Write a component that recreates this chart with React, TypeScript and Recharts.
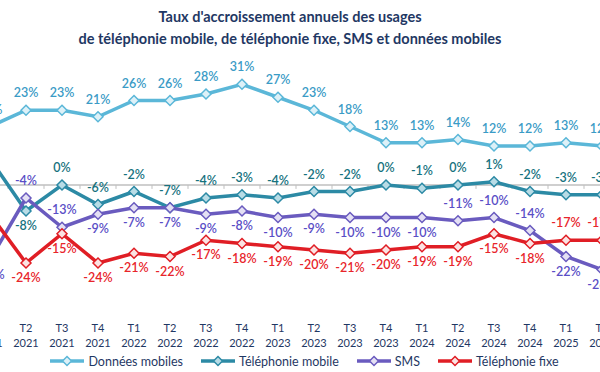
import React from 'react';
import { LineChart, Line, XAxis, YAxis, ReferenceLine, Legend } from 'recharts';

const quarters = ['T1', 'T2', 'T3', 'T4', 'T1', 'T2', 'T3', 'T4', 'T1', 'T2', 'T3', 'T4', 'T1', 'T2', 'T3', 'T4', 'T1', 'T2'];
const years = ['2021', '2021', '2021', '2021', '2022', '2022', '2022', '2022', '2023', '2023', '2023', '2023', '2024', '2024', '2024', '2024', '2025', '2025'];

const donneesMobiles = [18, 23, 23, 21, 26, 26, 28, 31, 27, 23, 18, 13, 13, 14, 12, 12, 13, 12];
const telephonieMobile = [8, -8, 0, -6, -2, -7, -4, -3, -4, -2, -2, 0, -1, 0, 1, -2, -3, -3];
const sms = [-23, -4, -13, -9, -7, -7, -9, -8, -10, -9, -10, -10, -10, -11, -10, -14, -22, -26];
const telephonieFixe = [-9, -24, -15, -24, -21, -22, -17, -18, -19, -20, -21, -20, -19, -19, -15, -18, -17, -17];

const seriesNames = ['Données mobiles', 'Téléphonie mobile', 'SMS', 'Téléphonie fixe'];

// label placement (indices whose label sits under the point)
const belowDM: number[] = [];
const belowTM = [1];
const belowSMS = [0, 3, 4, 5, 6, 7, 8, 9, 10, 11, 12, 16, 17];
const belowTF = [0, 1, 2, 3, 4, 5, 6, 7, 8, 9, 10, 11, 12, 13, 14, 15];

const rows = quarters.map((q, i) => ({
  i,
  dm: donneesMobiles[i],
  tm: telephonieMobile[i],
  sms: sms[i],
  tf: telephonieFixe[i],
}));

const boundaries = quarters.slice(0, -1).map((_, k) => k + 0.5);

const FONT = 'Lato, "Open Sans", sans-serif';

const styles = [
  { key: 'dm', line: '#5BB7D8', fill: '#DDF1F8', text: '#3A9BC6', below: belowDM },
  { key: 'tm', line: '#2C8AA5', fill: '#B8DCE6', text: '#16727E', below: belowTM },
  { key: 'sms', line: '#6A5BBF', fill: '#E4E0F4', text: '#5A4EC6', below: belowSMS },
  { key: 'tf', line: '#E01E25', fill: '#FBE3E3', text: '#E8252B', below: belowTF },
];

const makeDot = (stroke: string, fill: string) => (props: any) => {
  const { cx, cy, index } = props;
  if (cx == null || cy == null) return <g key={index} />;
  const r = 5;
  return (
    <polygon
      key={index}
      points={`${cx},${cy - r} ${cx + r},${cy} ${cx},${cy + r} ${cx - r},${cy}`}
      fill={fill}
      stroke={stroke}
      strokeWidth={1.5}
    />
  );
};

const makeLabel = (color: string, below: number[]) => (props: any) => {
  const { x, y, value, index } = props;
  const isBelow = below.includes(index);
  return (
    <text
      key={index}
      x={x}
      y={isBelow ? y + 19 : y - 13}
      textAnchor="middle"
      fill={color}
      fontSize={12.5}
      fontFamily={FONT}
      fontWeight={600}
    >
      {`${value}%`}
    </text>
  );
};

const QuarterTick = (props: any) => {
  const { x, y, payload } = props;
  const i = payload.value;
  return (
    <g transform={`translate(${x},${y})`}>
      <text textAnchor="middle" y={30} fill="#1F3864" fontSize={11} fontFamily={FONT}>
        {quarters[i]}
      </text>
      <text textAnchor="middle" y={45} fill="#1F3864" fontSize={11} fontFamily={FONT}>
        {years[i]}
      </text>
    </g>
  );
};

const LegendContent = () => (
  <div
    style={{
      height: 20,
      display: 'flex',
      justifyContent: 'center',
      alignItems: 'center',
      gap: 17,
      fontFamily: FONT,
      fontSize: 12.5,
      color: '#1F3864',
    }}
  >
    {styles.map((s, k) => (
      <div key={s.key} style={{ display: 'flex', alignItems: 'center' }}>
        <svg width={36} height={12} style={{ marginRight: 3 }}>
          <line x1={1} y1={6} x2={35} y2={6} stroke={s.line} strokeWidth={3.5} />
          <polygon points="18,1.5 22.5,6 18,10.5 13.5,6" fill={s.fill} stroke={s.line} strokeWidth={1.5} />
        </svg>
        <span>{seriesNames[k]}</span>
      </div>
    ))}
  </div>
);

export default function App() {
  return (
    <div
      style={{
        position: 'fixed',
        left: 0,
        top: 0,
        width: 600,
        height: 372,
        overflow: 'hidden',
        background: '#ffffff',
      }}
    >
      <div
        style={{
          position: 'absolute',
          top: 6,
          left: 0,
          width: 580,
          textAlign: 'center',
          fontFamily: FONT,
          fontWeight: 700,
          fontSize: 14.5,
          lineHeight: '22px',
          color: '#1F3864',
        }}
      >
        <div>Taux d'accroissement annuels des usages</div>
        <div>de téléphonie mobile, de téléphonie fixe, SMS et données mobiles</div>
      </div>
      <div style={{ position: 'absolute', left: -50, top: 0 }}>
        <LineChart
          width={700}
          height={372}
          data={rows}
          margin={{ top: 68, right: 48, bottom: 10, left: 40 }}
        >
          <XAxis
            dataKey="i"
            type="number"
            domain={[0, 17]}
            ticks={quarters.map((_, i) => i)}
            axisLine={false}
            tickLine={false}
            tickSize={0}
            tickMargin={0}
            height={40}
            tick={<QuarterTick />}
            interval={0}
          />
          <YAxis hide domain={[-36, 36]} />
          <ReferenceLine y={0} stroke="#BFBFBF" strokeWidth={1.5} />
          {boundaries.map((b) => (
            <ReferenceLine
              key={b}
              segment={[
                { x: b, y: 0 },
                { x: b, y: -1.2 },
              ]}
              stroke="#BFBFBF"
              strokeWidth={1}
            />
          ))}
          {styles.map((s, k) => (
            <Line
              key={s.key}
              dataKey={s.key}
              name={seriesNames[k]}
              stroke={s.line}
              strokeWidth={3.5}
              isAnimationActive={false}
              dot={makeDot(s.line, s.fill)}
              activeDot={false}
              label={makeLabel(s.text, s.below)}
            />
          ))}
          <Legend
            verticalAlign="bottom"
            content={<LegendContent />}
            wrapperStyle={{ left: 0, width: 708, bottom: 1 }}
          />
        </LineChart>
      </div>
    </div>
  );
}
